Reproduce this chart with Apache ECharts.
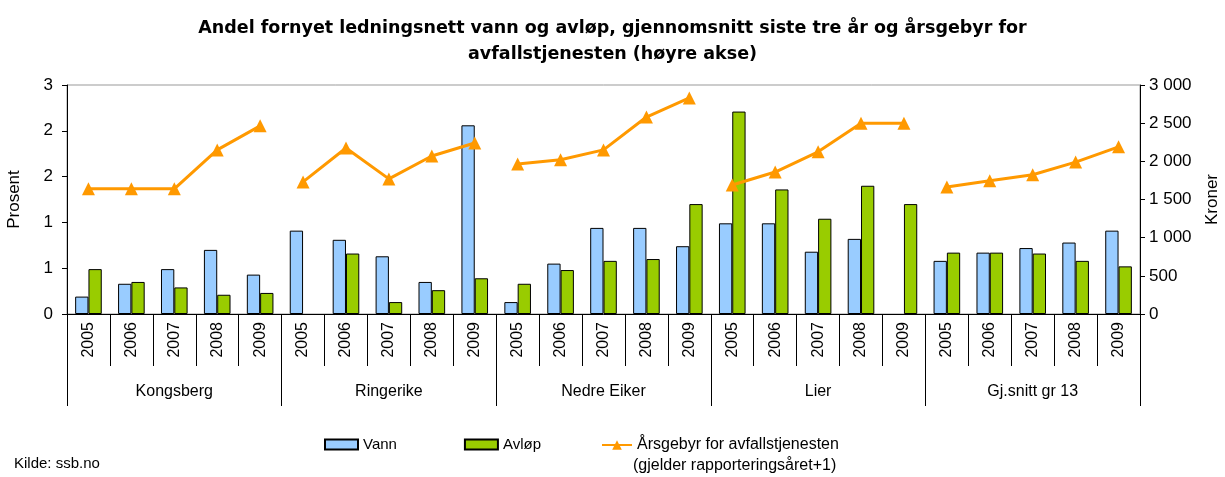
<!DOCTYPE html>
<html lang="no">
<head>
    <meta charset="UTF-8">
    <title>Andel fornyet ledningsnett</title>
    <script src="https://cdn.jsdelivr.net/npm/echarts@6/dist/echarts.min.js"></script>
    <style>
        html, body { margin: 0; padding: 0; background: #fff; }
    </style>
</head>
<body>
    <div id="container" style="width: 1225px; height: 477px"></div>
    <script>
        var groups = ['Kongsberg', 'Ringerike', 'Nedre Eiker', 'Lier', 'Gj.snitt gr 13'];
        var years = ['2005', '2006', '2007', '2008', '2009'];

        // prosent, 5 per kommune
        var vann = [0.19, 0.33, 0.49, 0.70, 0.43,
                    0.91, 0.81, 0.63, 0.35, 2.06,
                    0.13, 0.55, 0.94, 0.94, 0.74,
                    0.99, 0.99, 0.68, 0.82, null,
                    0.58, 0.67, 0.72, 0.78, 0.91];
        var avlop = [0.49, 0.35, 0.29, 0.21, 0.23,
                     null, 0.66, 0.13, 0.26, 0.39,
                     0.33, 0.48, 0.58, 0.60, 1.20,
                     2.21, 1.36, 1.04, 1.40, 1.20,
                     0.67, 0.67, 0.66, 0.58, 0.52];
        // kroner
        var gebyr = [1640, 1640, 1640, 2150, 2465,
                     1730, 2175, 1770, 2070, 2240,
                     1965, 2020, 2150, 2580, 2830,
                     1690, 1860, 2125, 2500, 2500,
                     1665, 1745, 1825, 1990, 2190];

        var lineName = 'Årsgebyr for avfallstjenesten';
        var lineNote = '(gjelder rapporteringsåret+1)';

        var cats = [];
        groups.forEach(function () { years.forEach(function (y) { cats.push(y); }); });

        var font = 'Liberation Sans, Arial, sans-serif';

        var series = [
            { name: 'Vann', type: 'bar', data: vann, barGap: 0, barCategoryGap: '38%',
              itemStyle: { color: '#99CCFF', borderColor: '#000', borderWidth: 1 } },
            { name: 'Avløp', type: 'bar', data: avlop,
              itemStyle: { color: '#99CC00', borderColor: '#000', borderWidth: 1 } }
        ];
        // one line per kommune so the segments break between groups
        for (var g = 0; g < groups.length; g++) {
            var d = gebyr.map(function (v, i) { return Math.floor(i / 5) === g ? v : null; });
            series.push({
                name: lineName, type: 'line', yAxisIndex: 1, data: d,
                symbol: 'triangle', symbolSize: 13, connectNulls: false,
                lineStyle: { color: '#FF9900', width: 3 },
                itemStyle: { color: '#FF9900' }
            });
        }

        var chart = echarts.init(document.getElementById('container'));
        chart.setOption({
            animation: false,
            textStyle: { fontFamily: font },
            title: {
                text: 'Andel fornyet ledningsnett vann og avløp, gjennomsnitt siste tre år og årsgebyr for\navfallstjenesten (høyre akse)',
                left: 'center', top: 10,
                textStyle: { fontSize: 17.5, fontWeight: 'bold', color: '#000', lineHeight: 26, fontFamily: 'DejaVu Sans, sans-serif' }
            },
            grid: { left: 67, right: 85, top: 85, bottom: 163, containLabel: false, outerBoundsMode: 'none',
                    show: true, borderColor: '#999', borderWidth: 1 },
            legend: [
                {
                    data: ['Vann', 'Avløp'], left: 319, top: 432, icon: 'rect',
                    itemWidth: 33, itemHeight: 10, itemGap: 67,
                    textStyle: { fontSize: 15, color: '#000', fontFamily: font }
                },
                {
                    data: [lineName], left: 596, top: 432,
                    itemWidth: 30, itemHeight: 12,
                    textStyle: { fontSize: 16, color: '#000', fontFamily: font }
                }
            ],
            xAxis: [
                {
                    type: 'category', data: cats, position: 'bottom',
                    axisLine: { lineStyle: { color: '#000' } },
                    axisTick: { show: true, length: 52, interval: 0, lineStyle: { color: '#000' } },
                    axisLabel: { rotate: 90, interval: 0, fontSize: 16, color: '#000', margin: 8 }
                },
                {
                    type: 'category', data: groups, position: 'bottom',
                    axisLine: { show: false },
                    axisTick: { show: true, length: 92, interval: 0, lineStyle: { color: '#000' } },
                    axisLabel: { interval: 0, fontSize: 16, color: '#000', margin: 70 }
                }
            ],
            yAxis: [
                {
                    type: 'value', min: 0, max: 2.5, interval: 0.5,
                    name: 'Prosent', nameLocation: 'middle', nameGap: 44, nameRotate: 90,
                    nameTextStyle: { fontSize: 17, color: '#000' },
                    axisLine: { show: true, lineStyle: { color: '#000' } },
                    axisTick: { show: true, length: 5, lineStyle: { color: '#000' } },
                    splitLine: { show: false },
                    axisLabel: { fontSize: 17, color: '#000', margin: 14,
                                 formatter: function (v) { return String(Math.round(v)); } }
                },
                {
                    type: 'value', min: 0, max: 3000, interval: 500,
                    name: 'Kroner', nameLocation: 'middle', nameGap: 64, nameRotate: 90,
                    nameTextStyle: { fontSize: 17, color: '#000' },
                    axisLine: { show: true, lineStyle: { color: '#000' } },
                    axisTick: { show: true, length: 5, lineStyle: { color: '#000' } },
                    splitLine: { show: false },
                    axisLabel: { fontSize: 17, color: '#000', margin: 9,
                                 formatter: function (v) { return String(v).replace(/\B(?=(\d{3})+(?!\d))/g, ' '); } }
                }
            ],
            graphic: [
                { type: 'text', left: 14, top: 456, style: { text: 'Kilde: ssb.no', fontSize: 15, fill: '#000', fontFamily: font } },
                { type: 'text', left: 633, top: 458, style: { text: lineNote, fontSize: 16, fill: '#000', fontFamily: font } }
            ],
            series: series
        });
    </script>
</body>
</html>
